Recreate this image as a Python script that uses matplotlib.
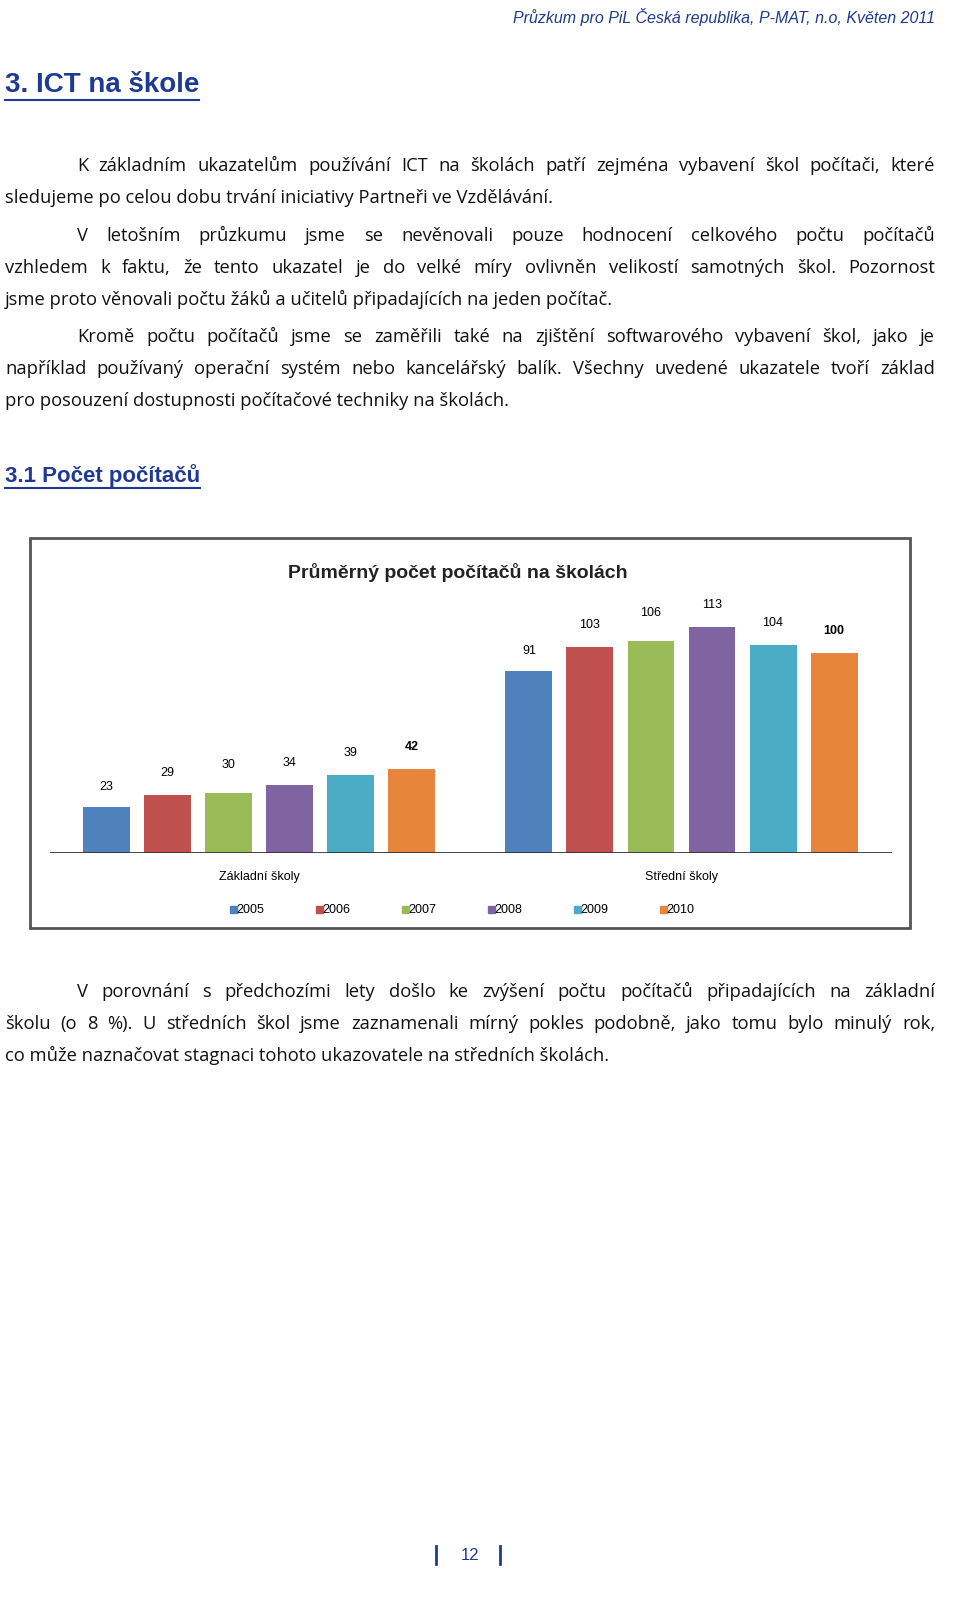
import matplotlib
matplotlib.use("Agg")
import matplotlib.pyplot as plt
from matplotlib.patches import Rectangle
from matplotlib.lines import Line2D

W, H = 960, 1605
years = ["2005", "2006", "2007", "2008", "2009", "2010"]
zakladni = [23, 29, 30, 34, 39, 42]
stredni = [91, 103, 106, 113, 104, 100]
groups = ["Základní školy", "Střední školy"]
colors = ["#4F81BD", "#C0504D", "#9BBB59", "#8064A2", "#4BACC6", "#E8853D"]

para1 = ["K základním ukazatelům používání ICT na školách patří zejména vybavení škol počítači, které",
         "sledujeme po celou dobu trvání iniciativy Partneři ve Vzdělávání."]
para2 = ["V letošním průzkumu jsme se nevěnovali pouze hodnocení celkového počtu počítačů",
         "vzhledem k faktu, že tento ukazatel je do velké míry ovlivněn velikostí samotných škol. Pozornost",
         "jsme proto věnovali počtu žáků a učitelů připadajících na jeden počítač."]
para3 = ["Kromě počtu počítačů jsme se zaměřili také na zjištění softwarového vybavení škol, jako je",
         "například používaný operační systém nebo kancelářský balík. Všechny uvedené ukazatele tvoří základ",
         "pro posouzení dostupnosti počítačové techniky na školách."]
para4 = ["V porovnání s předchozími lety došlo ke zvýšení počtu počítačů připadajících na základní",
         "školu (o 8 %). U středních škol jsme zaznamenali mírný pokles podobně, jako tomu bylo minulý rok,",
         "co může naznačovat stagnaci tohoto ukazovatele na středních školách."]

fig = plt.figure(figsize=(W / 100, H / 100), dpi=100)
bg = fig.add_axes([0, 0, 1, 1])
bg.set_xlim(0, W)
bg.set_ylim(H, 0)
bg.axis("off")
renderer = fig.canvas.get_renderer()

blue = "#1F3A93"
bg.text(935, 17, "Průzkum pro PiL Česká republika, P-MAT, n.o, Květen 2011", ha="right",
        va="center", color=blue, fontsize=11.5, style="italic", family="Liberation Sans")


def heading(y, s, size, x=5):
    t = bg.text(x, y, s, va="center", color=blue, fontsize=size, weight="bold", family="Liberation Sans")
    bb = t.get_window_extent(renderer)
    bg.plot([x, x + bb.width], [y + size * 0.75, y + size * 0.75], color=blue, lw=1.5)


heading(85, "3. ICT na škole", 20)
heading(476, "3.1 Počet počítačů", 16)


def text_line(y, s, x0, x1, justify):
    kw = dict(va="baseline", fontsize=13.2, family="Open Sans", color="#111111")
    y = y + 6
    if not justify:
        bg.text(x0, y, s, **kw)
        return
    words = s.split(" ")
    arts = [bg.text(0, y, w, **kw) for w in words]
    widths = [a.get_window_extent(renderer).width for a in arts]
    gap = (x1 - x0 - sum(widths)) / max(len(words) - 1, 1)
    x = x0
    for a, w in zip(arts, widths):
        a.set_x(x)
        x += w + gap


def paragraph(y0, lines):
    for i, s in enumerate(lines):
        x0 = 77 if i == 0 else 5
        text_line(y0 + i * 32, s, x0, 935, i < len(lines) - 1)


paragraph(165, para1)
paragraph(235, para2)
paragraph(336, para3)
paragraph(991, para4)

# rámeček grafu
bg.add_patch(Rectangle((30, 538), 880, 390, fill=False, ec="#555555", lw=2))
bg.text(458, 572, "Průměrný počet počítačů na školách", ha="center", va="center",
        fontsize=14, weight="bold", family="Liberation Sans", color="#222222")

ax = fig.add_axes([50 / W, 1 - 853 / H, 842 / W, 280 / H])
ax.set_ylim(0, 140)
ax.set_xlim(-0.93, 12.87)
ax.axis("off")
ax.axhline(0, color="#333333", lw=2)
for g, (vals, off) in enumerate([(zakladni, 0), (stredni, 6.92)]):
    for i, v in enumerate(vals):
        x = off + i
        ax.bar(x, v, width=0.77, color=colors[i])
        dy = [7, 8, 11, 8, 8, 8][i]
        ax.text(x, v + dy, str(v), ha="center", va="bottom", fontsize=9,
                weight="bold" if i == 5 else "normal", family="Liberation Sans")
    ax.text(off + 2.5, -12, groups[g], ha="center", va="center", fontsize=9, family="Liberation Sans")

for i, y in enumerate(years):
    x = 230 + i * 86
    bg.add_patch(Rectangle((x, 906), 7, 7, color=colors[i]))
    bg.text(x + 6, 910, y, va="center", fontsize=9, family="Liberation Sans")

bg.add_line(Line2D([436, 436], [1546, 1564], color=blue, lw=2))
bg.add_line(Line2D([500, 500], [1546, 1564], color=blue, lw=2))
bg.text(470, 1555, "12", ha="center", va="center", fontsize=12, color=blue, family="Liberation Sans")

fig.savefig("out.png", dpi=100)
